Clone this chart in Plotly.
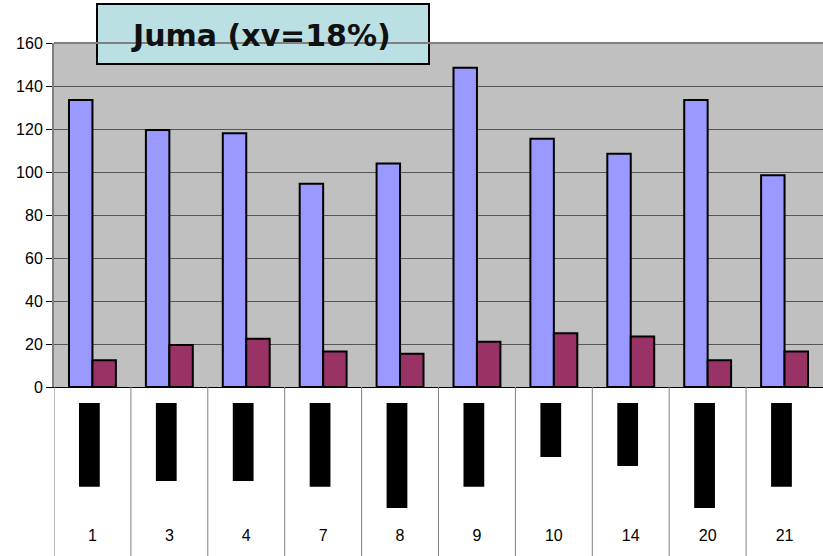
import plotly.graph_objects as go

# Trial numbers along the bottom
categories = ["1", "3", "4", "7", "8", "9", "10", "14", "20", "21"]
# Upper panel series
series_a = [133.5, 119.5, 118, 94.5, 104, 148.5, 115.5, 108.5, 133.5, 98.5]
series_b = [12.5, 19.5, 22.5, 16.5, 15.5, 21, 25, 23.5, 12.5, 16.5]
# Lower panel: downward bars
lower_values = [39, 36.3, 36.3, 39, 48.8, 39, 25.1, 29.3, 48.8, 39]

W, H = 823, 556
top_px, zero_px = 43, 387
split = (H - zero_px) / H
top_dom = [split, (H - top_px) / H]
bot_dom = [0, split]

# keep the same units-per-pixel in the lower panel as in the upper one
units_per_px = 160 / (zero_px - top_px)
lower_range = [-(H - zero_px) * units_per_px, 0]
lower_base = -16 * units_per_px
label_y = -(537 - zero_px) * units_per_px

fig = go.Figure()
fig.add_bar(x=categories, y=series_a, marker=dict(color="#9999FF", line=dict(color="black", width=2)),
            xaxis="x", yaxis="y", name="a")
fig.add_bar(x=categories, y=series_b, marker=dict(color="#993366", line=dict(color="black", width=2)),
            xaxis="x", yaxis="y", name="b")
fig.add_bar(x=categories, y=[-v for v in lower_values], base=lower_base, width=0.27, offset=-0.175,
            marker=dict(color="black", line=dict(width=0)), xaxis="x2", yaxis="y2", name="c")
fig.add_scatter(x=categories, y=[label_y] * len(categories), mode="text", text=categories,
                textfont=dict(family="Liberation Sans, Arial", size=16, color="black"),
                xaxis="x2", yaxis="y2", hoverinfo="skip", cliponaxis=False)

# category separators in the lower panel
shapes = []
for i in range(len(categories)):
    b = i - 0.5
    shapes.append(dict(type="line", xref="x2", yref="paper", x0=b, x1=b, y0=0, y1=split,
                       line=dict(color="#808080", width=1)))

# title box
shapes.append(dict(type="rect", xref="paper", yref="paper",
                   x0=(97 - 54) / (W - 54), x1=(429 - 54) / (W - 54),
                   y0=(H - 64) / H, y1=(H - 4) / H,
                   fillcolor="#BBE0E3", line=dict(color="black", width=2), layer="above"))

fig.update_layout(
    width=W, height=H,
    margin=dict(l=54, r=0, t=0, b=0, autoexpand=False),
    paper_bgcolor="white",
    plot_bgcolor="#C0C0C0",
    showlegend=False,
    barmode="group",
    bargap=0.39,
    bargroupgap=0,
    font=dict(family="Liberation Sans, Arial", size=16, color="black"),
    xaxis=dict(domain=[0, 1], anchor="y", type="category", range=[-0.5, len(categories) - 0.5],
               showticklabels=False, ticks="", showgrid=False, showline=True,
               linecolor="black", linewidth=1, mirror=False, automargin=False),
    yaxis=dict(domain=top_dom, anchor="x", range=[0, 160], dtick=20, ticks="outside", ticklen=6,
               tickcolor="black", showgrid=True, gridcolor="#555555", gridwidth=1,
               showline=True, linecolor="#808080", linewidth=2, zeroline=False,
               tickfont=dict(size=16), automargin=False),
    xaxis2=dict(domain=[0, 1], anchor="y2", type="category", matches="x",
                showticklabels=False, ticks="", showgrid=False, showline=False, automargin=False),
    yaxis2=dict(domain=bot_dom, anchor="x2", range=lower_range, showticklabels=False,
                ticks="", showgrid=False, zeroline=False, showline=False, automargin=False),
    shapes=shapes,
    annotations=[dict(text="<b>Juma (xv=18%)</b>", xref="paper", yref="paper",
                      x=(261 - 54) / (W - 54), y=(H - 35) / H, xanchor="center", yanchor="middle",
                      showarrow=False, font=dict(family="DejaVu Sans", size=30, color="#111111"))],
)

# plot area: white below zero
fig.add_shape(type="rect", xref="paper", yref="paper", x0=0, x1=1, y0=0, y1=split,
              fillcolor="white", line=dict(width=0), layer="below")
# top border of the plot area
fig.add_shape(type="line", xref="paper", yref="paper", x0=0, x1=1, y0=top_dom[1], y1=top_dom[1],
              line=dict(color="#808080", width=2))

fig.write_html("out.html")
